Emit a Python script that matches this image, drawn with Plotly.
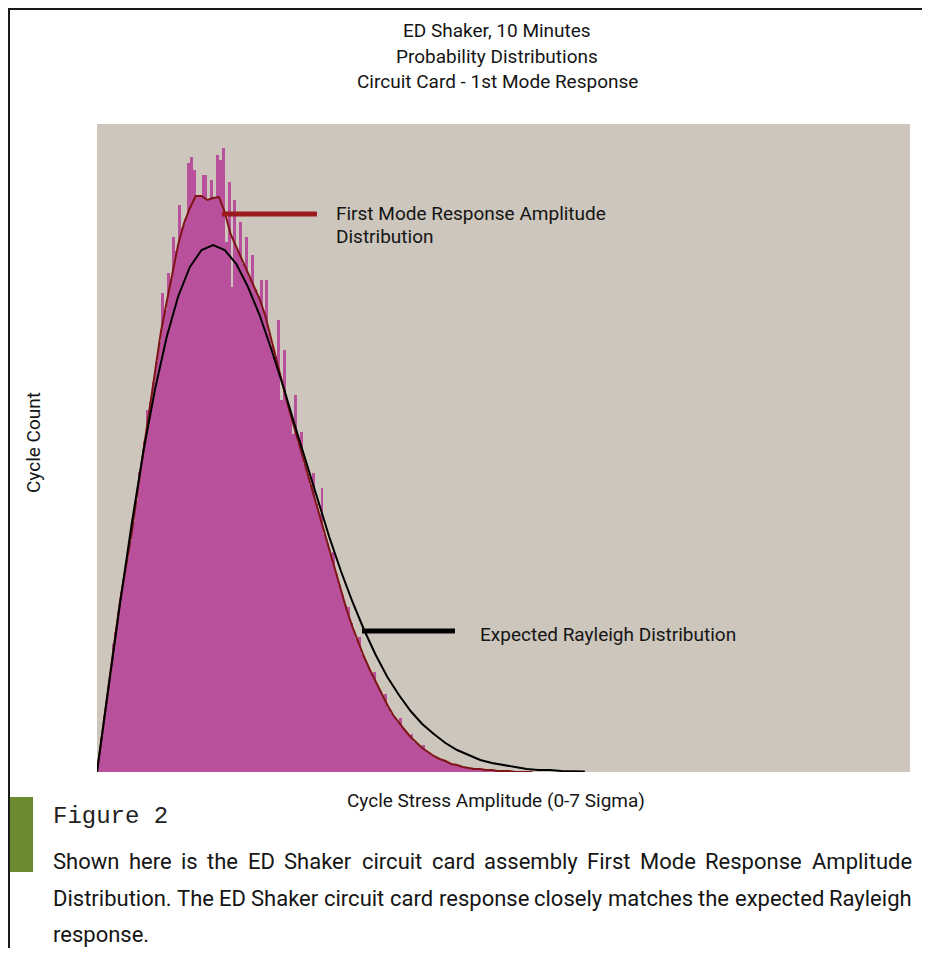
import numpy as np
import plotly.graph_objects as go

# ---------------- data ----------------
HIST_BIN_WIDTH = 0.025  # sigma
hist_counts = [
    11, 34, 56, 77, 98, 128, 140, 161, 180, 197,
    214, 231, 250, 271, 300, 312, 331, 362, 370, 390,
    410, 430, 479, 462, 499, 493, 535, 521, 567, 544,
    553, 609, 615, 602, 576, 576, 597, 597, 572, 592,
    574, 617, 612, 624, 530, 590, 485, 572, 522, 550,
    508, 535, 495, 517, 483, 476, 492, 460, 492, 439,
    427, 416, 452, 372, 422, 370, 359, 338, 377, 329,
    340, 308, 298, 287, 299, 268, 258, 284, 238, 229,
    219, 220, 198, 187, 177, 167, 165, 149, 141, 133,
    135, 118, 112, 105, 99, 100, 87, 81, 75, 78,
    64, 59, 55, 51, 54, 44, 40, 37, 38, 30,
    28, 25, 27, 21, 19, 17, 15, 14, 12, 11,
    10, 9, 8, 7, 6, 5, 5, 4, 4, 3,
    3, 3, 3, 2, 2, 2, 2, 1, 1, 1,
    1, 1, 1, 0, 0, 0, 0, 0, 0, 0,
]

measured_sigma = [round(0.05 * i, 2) for i in range(76)]
measured_counts = [
    0, 45, 88, 130, 172, 205, 240, 282, 322, 360,
    400, 440, 470, 501, 528, 549, 564, 576, 576, 572,
    574, 575, 560, 538, 525, 512, 498, 486, 473, 456,
    433, 411, 388, 364, 344, 324, 303, 282, 263, 243,
    224, 203, 182, 162, 145, 129, 115, 102, 90, 78,
    67, 57, 49, 42, 35, 29, 24, 20, 16, 13,
    11, 8, 7, 5, 4, 3, 3, 2, 2, 1,
    1, 1, 0, 0, 0, 0,
]

rayleigh_sigma = [round(0.1 * i, 1) for i in range(43)]
rayleigh_counts = [
    0, 86, 170, 249, 321, 383, 435, 476, 505, 522,
    527, 522, 508, 485, 457, 423, 387, 348, 310, 272,
    235, 201, 170, 142, 117, 95, 77, 61, 48, 38,
    29, 22, 17, 12, 9, 7, 5, 3, 2, 2,
    1, 1, 0.5,
]

title_lines = ["ED Shaker, 10 Minutes", "Probability Distributions",
               "Circuit Card - 1st Mode Response"]
x_title = "Cycle Stress Amplitude (0-7 Sigma)"
y_title = "Cycle Count"
label_measured = ["First Mode Response Amplitude", "Distribution"]
label_rayleigh = "Expected Rayleigh Distribution"
figure_label = "Figure 2"
caption_lines = [
    "Shown here is the ED Shaker circuit card assembly First Mode Response Amplitude",
    "Distribution. The ED Shaker circuit card response closely matches the expected Rayleigh",
    "response.",
]

# ---------------- styling ----------------
# The page body has an 8 px margin, so the figure is drawn 8 px in from the
# window corner; all positions below are given in window pixels.
PAGE_OFF = 8
WIN_W, WIN_H = 930, 956
W, H = WIN_W - 2 * PAGE_OFF, WIN_H - 2 * PAGE_OFF
L, R, T, B = 97, 910, 124, 772          # plot area in window pixels
FONT = "Roboto, Liberation Sans, sans-serif"
BG_PLOT = "#CCC6BC"
MAGENTA = "#B9509B"
DARK_RED = "#7E1416"
POINTER_RED = "#9B1B1F"
GREEN = "#6C8B30"
TXT = "#151515"


def px(x):
    return (x - L) / (R - L)


def py(y):
    return (B - y) / (B - T)


hist_x = (np.arange(len(hist_counts)) + 0.5) * HIST_BIN_WIDTH

fig = go.Figure()
fig.add_trace(go.Bar(x=hist_x, y=hist_counts, width=HIST_BIN_WIDTH,
                     marker=dict(color=MAGENTA, line=dict(width=0)),
                     showlegend=False, hoverinfo="skip"))
fig.add_trace(go.Scatter(x=measured_sigma, y=measured_counts, mode="lines",
                         line=dict(color=DARK_RED, width=2), showlegend=False))
fig.add_trace(go.Scatter(x=rayleigh_sigma, y=rayleigh_counts, mode="lines",
                         line=dict(color="black", width=2), showlegend=False))


def note(text, x, y, xanchor="left", size=19, family=FONT, color=TXT, angle=0):
    return dict(text=text, x=px(x), y=py(y), xref="paper", yref="paper",
                xanchor=xanchor, yanchor="middle", showarrow=False, textangle=angle,
                borderpad=0, borderwidth=0,
                font=dict(family=family, size=size, color=color))


annotations = []
for i, t in enumerate(title_lines):
    annotations.append(note(t, 497, 31 + 25.5 * i, "center"))
annotations.append(note(y_title, 33, 443, "center", angle=-90))
annotations.append(note(x_title, 496, 800, "center"))
for i, t in enumerate(label_measured):
    annotations.append(note(t, 336, 214 + 22 * i))
annotations.append(note(label_rayleigh, 480, 634))
annotations.append(note(figure_label, 53, 816, size=24,
                        family="Liberation Mono, DejaVu Sans Mono, monospace", color="#222"))

# --- justified caption: approximate Roboto advance widths (em) to spread words
ADV = {
    "a": .544, "b": .561, "c": .523, "d": .564, "e": .530, "f": .347, "g": .561,
    "h": .551, "i": .243, "k": .507, "l": .243, "m": .876, "n": .552, "o": .570,
    "p": .561, "r": .338, "s": .516, "t": .327, "u": .551, "w": .751, "x": .495,
    "y": .484, "A": .652, "D": .654, "E": .567, "F": .553, "M": .872, "R": .616,
    "S": .593, "T": .610, ".": .263,
}
CAP_SIZE = 22
CAP_L, CAP_R = 53, 912
CALIB = 1.0


def word_w(w):
    return sum(ADV.get(ch, .55) for ch in w) * CAP_SIZE * CALIB


for i, line in enumerate(caption_lines):
    yy = 861 + 37 * i
    words = line.split(" ")
    justify = i < len(caption_lines) - 1
    if not justify:
        annotations.append(note(line, CAP_L, yy, size=CAP_SIZE))
        continue
    widths = [word_w(w) for w in words]
    gap = (CAP_R - CAP_L - sum(widths)) / (len(words) - 1)
    half = len(words) // 2
    # left half: placed from the left margin
    xcur = CAP_L
    for j in range(half):
        annotations.append(note(words[j], xcur, yy, "left", size=CAP_SIZE))
        xcur += widths[j] + gap
    # right half: placed from the right margin
    xcur = CAP_R
    for j in range(len(words) - 1, half - 1, -1):
        annotations.append(note(words[j], xcur, yy, "right", size=CAP_SIZE))
        xcur -= widths[j] + gap

shapes = [
    # pointers (data coordinates)
    dict(type="line", xref="x", yref="y", x0=1.076, x1=1.894, y0=558, y1=558,
         line=dict(color=POINTER_RED, width=5)),
    dict(type="line", xref="x", yref="y", x0=2.282, x1=3.082, y0=141, y1=141,
         line=dict(color="black", width=5)),
    # page frame
    dict(type="line", xref="paper", yref="paper", x0=px(8), x1=px(926), y0=py(9), y1=py(9),
         line=dict(color="#1a1a1a", width=2)),
    dict(type="line", xref="paper", yref="paper", x0=px(9), x1=px(9), y0=py(8), y1=py(960),
         line=dict(color="#1a1a1a", width=2)),
    # green marker bar
    dict(type="rect", xref="paper", yref="paper", x0=px(10), x1=px(33), y0=py(797), y1=py(872),
         fillcolor=GREEN, line=dict(width=0)),
]

fig.update_layout(
    width=W, height=H,
    margin=dict(l=L - PAGE_OFF, r=W - (R - PAGE_OFF), t=T - PAGE_OFF, b=H - (B - PAGE_OFF)),
    paper_bgcolor="white", plot_bgcolor=BG_PLOT,
    bargap=0,
    xaxis=dict(range=[0, 7], showticklabels=False, showgrid=False, zeroline=False,
               ticks="", showline=False, fixedrange=True),
    yaxis=dict(range=[0, 648], showticklabels=False, showgrid=False, zeroline=False,
               ticks="", showline=False, fixedrange=True),
    annotations=annotations, shapes=shapes,
    font=dict(family=FONT),
)

fig.write_html("out.html")
